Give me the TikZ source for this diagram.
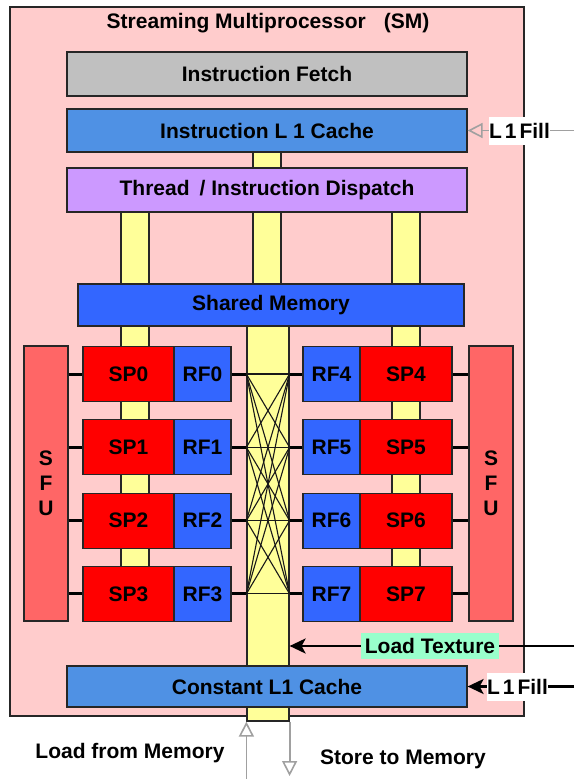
\documentclass[tikz,border=0pt]{standalone}
\usepackage{fontspec}
\setmainfont{Liberation Sans}
\usetikzlibrary{arrows.meta}
\definecolor{smpink}{RGB}{255,204,204}
\definecolor{fetchgray}{RGB}{192,192,192}
\definecolor{cacheblue}{RGB}{79,145,228}
\definecolor{memblue}{RGB}{51,102,255}
\definecolor{spred}{RGB}{255,0,0}
\definecolor{sfured}{RGB}{255,102,102}
\definecolor{baryellow}{RGB}{255,255,153}
\definecolor{disppurple}{RGB}{204,153,255}
\definecolor{texgreen}{RGB}{153,255,204}
\definecolor{arrowgray}{RGB}{160,160,160}
\begin{document}
\begin{tikzpicture}[x=1pt,y=-1pt,
  txt/.style={font=\bfseries\fontsize{21}{25}\selectfont, text=black, inner sep=0pt},
  base/.style={txt, draw=black!85, line width=1.2pt},
  ybar/.style={draw=black!85, line width=1.2pt, fill=baryellow, inner sep=0pt, minimum width=28pt},
  rowbox/.style={base, minimum height=55pt},
  link/.style={line width=3pt, black},
  xbar/.style={line width=1.1pt, black!90},
  grayarrow/.style={line width=1.8pt, arrowgray, -{Triangle[open, length=15pt, width=15pt, line width=1.6pt]}},
  blackarrow/.style={line width=2.6pt, black, -{Stealth[length=16pt, width=15pt, inset=4pt]}}]
\useasboundingbox (0,0) rectangle (574,779);

% SM frame
\node[base, fill=smpink, minimum width=514pt, minimum height=709pt, line width=1.4pt] (sm) at (267,361.5) {};
\node[txt] (title) at (268,23) {Streaming Multiprocessor\hspace{18pt}(SM)};

% yellow bars
\node[ybar, minimum height=16pt] (b1) at (267,160) {};
\node[ybar, minimum height=72pt] (b2) at (267,248) {};
\node[ybar, minimum height=72pt] (bl1) at (135,248) {};
\node[ybar, minimum height=72pt] (br1) at (406,248) {};
\node[ybar, minimum height=254pt] (bl2) at (135,453) {};
\node[ybar, minimum height=254pt] (br2) at (406,453) {};
\node[ybar, minimum width=42pt, minimum height=395pt] (wbar) at (268,523.5) {};

% top boxes
\node[base, fill=fetchgray, minimum width=400pt, minimum height=44pt] (fetch) at (267,74) {Instruction Fetch};
\node[base, fill=cacheblue, minimum width=400pt, minimum height=43pt] (il1) at (267,130.5) {Instruction L 1 Cache};
\node[base, fill=disppurple, minimum width=400pt, minimum height=44pt] (disp) at (267,190) {Thread\hspace{10pt}/ Instruction Dispatch};
\node[base, fill=memblue, minimum width=386pt, minimum height=42pt] (smem) at (271,305) {Shared Memory};
\node[base, fill=cacheblue, minimum width=400pt, minimum height=41pt] (cl1) at (267,686.5) {Constant L1 Cache};

% SFUs
\node[base, fill=sfured, minimum width=44pt, minimum height=275pt, align=center] (sfuL) at (46,483.5) {S\\F\\U};
\node[base, fill=sfured, minimum width=44pt, minimum height=275pt, align=center] (sfuR) at (491,483.5) {S\\F\\U};

% SP / RF rows
\foreach \i/\y in {0/374,1/447.3,2/520.6,3/593.9}{
  \pgfmathtruncatemacro{\j}{\i+4}
  \node[rowbox, fill=spred, minimum width=91pt] (sp\i) at (128.5,\y) {SP\i};
  \node[rowbox, fill=memblue, minimum width=57pt] (rf\i) at (202.5,\y) {RF\i};
  \node[rowbox, fill=memblue, minimum width=57pt] (rf\j) at (331.5,\y) {RF\j};
  \node[rowbox, fill=spred, minimum width=92pt] (sp\j) at (406,\y) {SP\j};
  \draw[link] (sfuL.east |- sp\i.west) -- (sp\i.west);
  \draw[link] (rf\i.east) -- (wbar.west |- rf\i.east);
  \draw[link] (wbar.east |- rf\j.west) -- (rf\j.west);
  \draw[link] (sp\j.east) -- (sfuR.west |- sp\j.east);
}

% crossbar
\foreach \i in {0,...,3}{
  \foreach \j in {4,...,7}{
    \draw[xbar] (wbar.west |- rf\i.east) -- (wbar.east |- rf\j.west);
  }
}

% arrows
\coordinate (fillA) at (574,130.5);
\draw[grayarrow] (fillA) -- (il1.east);
\node[txt, fill=white, minimum width=61pt, minimum height=28pt] (fillAl) at (519.5,131) {L\hspace{3pt}1\hspace{3pt}Fill};

\coordinate (texA) at (574,646);
\draw[blackarrow] (texA) -- (wbar.east |- texA);
\node[txt, fill=texgreen, minimum width=138pt, minimum height=26pt] (texl) at (430,646) {Load Texture};

\coordinate (fillB) at (574,686.5);
\draw[blackarrow] (fillB) -- (cl1.east);
\node[txt, fill=white, minimum width=61pt, minimum height=28pt] (fillBl) at (517.5,687) {L\hspace{3pt}1\hspace{3pt}Fill};

\coordinate (ldA) at (wbar.south west |- 0,779);
\draw[grayarrow] (ldA) -- (wbar.south west);
\coordinate (stA) at (wbar.south east |- 0,776);
\draw[grayarrow] (wbar.south east) -- (stA);
\node[txt] (ldl) at (130,753) {Load from Memory};
\node[txt] (stl) at (403,759) {Store to Memory};
\end{tikzpicture}
\end{document}
